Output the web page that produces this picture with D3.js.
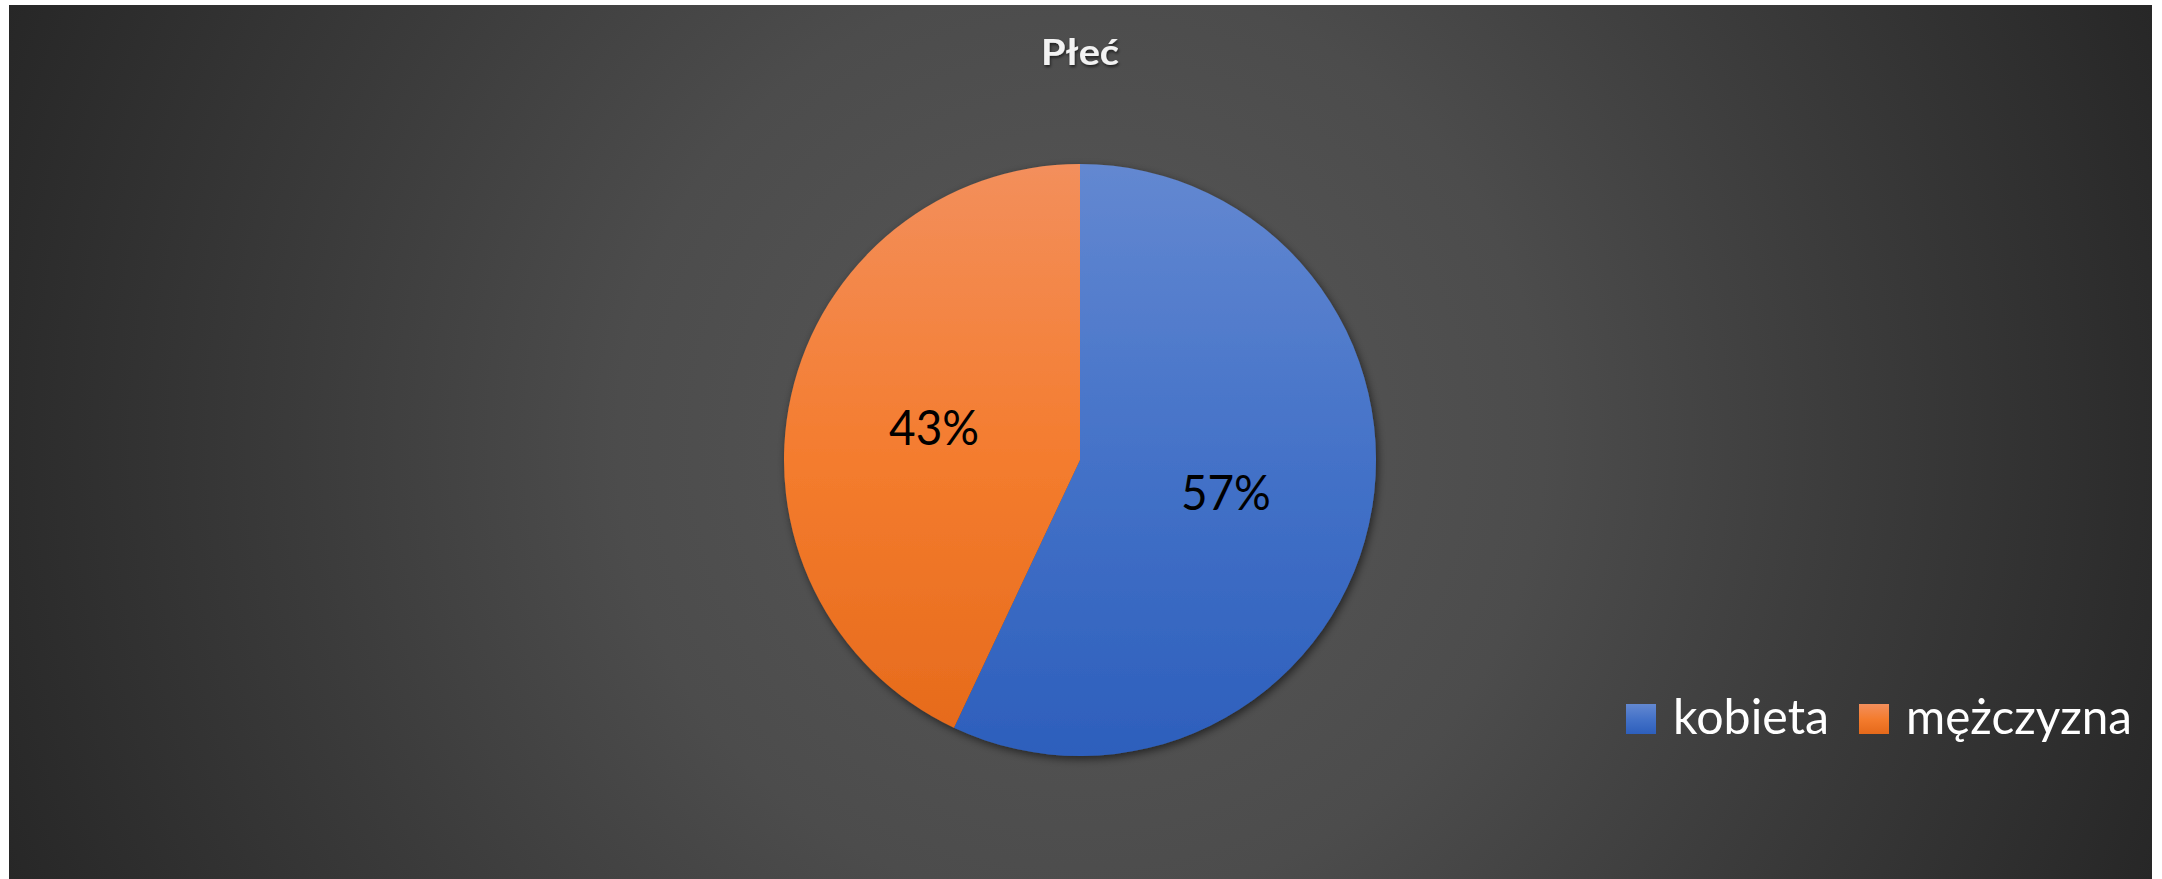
<!DOCTYPE html>
<html>
<head>
<meta charset="utf-8">
<script src="https://cdn.jsdelivr.net/npm/d3@7"></script>
<style>
  html, body { margin: 0; padding: 0; background: #ffffff; }
  svg { display: block; }
</style>
</head>
<body>
<div id="chart"></div>
<script>
const title = "Płeć";
const categories = ["kobieta", "mężczyzna"];
const values = [57, 43];

const width = 2162;
const height = 879;
const frame = {x: 9, y: 5, w: 2143, h: 874};
const cx = 1080, cy = 460, radius = 296;

const svg = d3.select("#chart").append("svg")
    .attr("width", width).attr("height", height);
const defs = svg.append("defs");

// radial background, circle that reaches the corners like Excel's
const bg = defs.append("radialGradient").attr("id", "bg")
    .attr("gradientUnits", "userSpaceOnUse")
    .attr("cx", frame.x + frame.w / 2).attr("cy", 442)
    .attr("r", Math.hypot(frame.w / 2, frame.h / 2));
[[0, "#585858"], [0.4, "#4c4c4c"], [0.67, "#3b3b3b"], [1, "#272727"]]
    .forEach(([o, c]) => bg.append("stop").attr("offset", o).attr("stop-color", c));

const sliceStops = [
    [["#6388d1", 0], ["#4472c8", 0.5], ["#2d5fbc", 1]],
    [["#f38f5c", 0], ["#f47c2e", 0.5], ["#e5691a", 1]]
];
sliceStops.forEach((stops, i) => {
    // in the pie group's own space (origin at the pie centre)
    const g = defs.append("linearGradient").attr("id", "slice" + i)
        .attr("gradientUnits", "userSpaceOnUse")
        .attr("x1", 0).attr("x2", 0).attr("y1", -radius).attr("y2", radius);
    stops.forEach(([c, o]) => g.append("stop").attr("offset", o).attr("stop-color", c));
});

const shadow = defs.append("filter").attr("id", "shadow")
    .attr("x", "-20%").attr("y", "-20%").attr("width", "140%").attr("height", "140%");
shadow.append("feDropShadow").attr("dx", 2).attr("dy", 3).attr("stdDeviation", 4)
    .attr("flood-color", "#000").attr("flood-opacity", 0.55);

const textShadow = defs.append("filter").attr("id", "tshadow");
textShadow.append("feDropShadow").attr("dx", 1).attr("dy", 2).attr("stdDeviation", 1.5)
    .attr("flood-color", "#000").attr("flood-opacity", 0.6);

svg.append("rect")
    .attr("x", frame.x).attr("y", frame.y)
    .attr("width", frame.w).attr("height", frame.h)
    .attr("fill", "url(#bg)");

svg.append("text")
    .attr("x", cx).attr("y", 65)
    .attr("text-anchor", "middle")
    .attr("font-family", "Lato, 'Open Sans', sans-serif")
    .attr("font-weight", "bold")
    .attr("font-size", 36)
    .attr("fill", "#f2f2f2")
    .attr("filter", "url(#tshadow)")
    .attr("textLength", 78).attr("lengthAdjust", "spacingAndGlyphs")
    .text(title);

const pie = d3.pie().sort(null).value(d => d);
const arcs = pie(values);
const arc = d3.arc().innerRadius(0).outerRadius(radius);
const labelArc = d3.arc().innerRadius(radius * 0.505).outerRadius(radius * 0.505);

const g = svg.append("g").attr("transform", `translate(${cx},${cy})`);

g.append("g").attr("filter", "url(#shadow)")
  .selectAll("path")
  .data(arcs)
  .join("path")
    .attr("d", arc)
    .attr("fill", (d, i) => `url(#slice${i})`);

g.selectAll("text.lbl")
  .data(arcs)
  .join("text")
    .attr("class", "lbl")
    .attr("transform", d => `translate(${labelArc.centroid(d)})`)
    .attr("text-anchor", "middle")
    .attr("dy", "0.36em")
    .attr("font-family", "Lato, 'Open Sans', sans-serif")
    .attr("font-size", 48)
    .attr("fill", "#000")
    .attr("textLength", 90).attr("lengthAdjust", "spacingAndGlyphs")
    .text(d => Math.round(d.value / d3.sum(values) * 100) + "%");

// legend
const legendWidths = [156, 226];
const legend = svg.append("g").attr("transform", "translate(1626,704)");
let lx = 0;
categories.forEach((c, i) => {
    const lg = defs.append("linearGradient").attr("id", "leg" + i)
        .attr("x1", 0).attr("x2", 0).attr("y1", 0).attr("y2", 1);
    sliceStops[i].forEach(([col, o]) => lg.append("stop").attr("offset", o).attr("stop-color", col));

    const item = legend.append("g").attr("transform", `translate(${lx},0)`);
    item.append("rect").attr("width", 30).attr("height", 30)
        .attr("fill", `url(#leg${i})`);
    item.append("text")
        .attr("x", 47).attr("y", 30)
        .attr("font-family", "Lato, 'Open Sans', sans-serif")
        .attr("font-size", 49)
        .attr("fill", "#ffffff")
        .attr("textLength", legendWidths[i]).attr("lengthAdjust", "spacingAndGlyphs")
        .text(c);
    lx += 47 + legendWidths[i] + 30;
});
</script>
</body>
</html>
